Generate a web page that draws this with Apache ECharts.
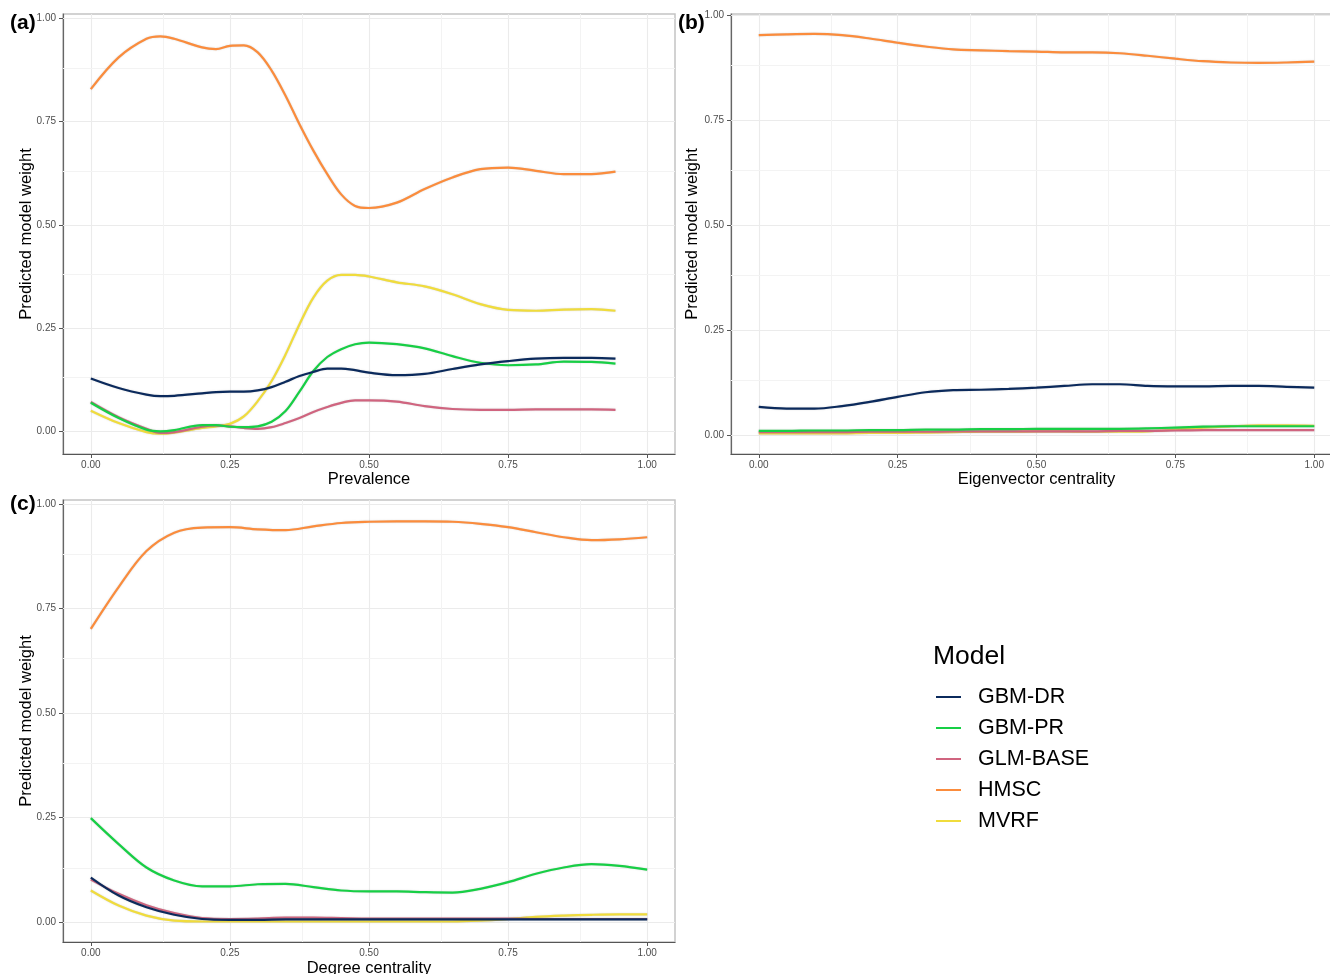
<!DOCTYPE html>
<html>
<head>
<meta charset="utf-8">
<script src="https://cdn.jsdelivr.net/npm/echarts@6/dist/echarts.min.js"></script>
<style>
html,body{margin:0;padding:0;background:#fff;}
#chart{width:1330px;height:974px;}
</style>
</head>
<body>
<div id="chart"></div>
<script>
// ---------------- DATA ----------------
const models = ['GBM-DR', 'GBM-PR', 'GLM-BASE', 'HMSC', 'MVRF'];
const modelColors = ['#0b2a5c', '#17cf45', '#d0647f', '#fb8c3c', '#f0dc3c'];
const tickValues = [0, 0.25, 0.5, 0.75, 1];
const minorValues = [0.125, 0.375, 0.625, 0.875];

// Panel (a): Prevalence
const xPrev = [0,0.05,0.1,0.125,0.15,0.2,0.225,0.25,0.275,0.3,0.325,0.35,0.375,0.4,0.425,0.45,0.475,0.5,0.55,0.6,0.65,0.7,0.75,0.8,0.85,0.9,0.943];
const prevGBMDR = [0.128,0.105,0.089,0.085,0.086,0.092,0.095,0.096,0.096,0.099,0.107,0.120,0.134,0.144,0.152,0.152,0.148,0.142,0.136,0.139,0.151,0.162,0.170,0.176,0.178,0.178,0.176];
const prevGBMPR = [0.069,0.032,0.004,0.000,0.003,0.015,0.015,0.011,0.010,0.012,0.023,0.049,0.096,0.146,0.180,0.199,0.211,0.215,0.211,0.201,0.182,0.166,0.160,0.162,0.169,0.168,0.164];
const prevGLM = [0.071,0.034,0.006,-0.004,-0.002,0.011,0.014,0.012,0.008,0.006,0.010,0.020,0.032,0.047,0.059,0.069,0.075,0.075,0.072,0.061,0.054,0.052,0.052,0.053,0.053,0.053,0.052];
const prevHMSC = [0.829,0.906,0.951,0.957,0.951,0.930,0.926,0.934,0.935,0.918,0.874,0.813,0.744,0.680,0.623,0.574,0.546,0.541,0.554,0.587,0.615,0.635,0.639,0.631,0.623,0.623,0.629];
const prevMVRF = [0.050,0.020,-0.002,-0.006,-0.003,0.008,0.012,0.018,0.036,0.073,0.122,0.186,0.259,0.324,0.365,0.379,0.379,0.375,0.361,0.351,0.332,0.308,0.294,0.292,0.295,0.296,0.292];

// Panel (b): Eigenvector centrality
const xEig = [0,0.05,0.1,0.15,0.2,0.25,0.3,0.35,0.4,0.45,0.5,0.55,0.6,0.65,0.7,0.75,0.8,0.85,0.9,0.95,1];
const eigGBMDR = [0.067,0.063,0.063,0.069,0.079,0.091,0.102,0.107,0.108,0.110,0.113,0.117,0.121,0.121,0.117,0.116,0.116,0.117,0.117,0.115,0.113];
const eigGBMPR = [0.010,0.010,0.011,0.011,0.012,0.012,0.013,0.013,0.014,0.014,0.015,0.015,0.015,0.015,0.016,0.018,0.020,0.021,0.021,0.021,0.021];
const eigGLM = [0.007,0.007,0.007,0.007,0.008,0.008,0.008,0.009,0.009,0.009,0.009,0.009,0.009,0.010,0.010,0.011,0.012,0.012,0.012,0.012,0.012];
const eigHMSC = [0.952,0.954,0.955,0.952,0.944,0.934,0.925,0.918,0.916,0.914,0.913,0.911,0.911,0.909,0.903,0.896,0.890,0.887,0.886,0.887,0.889];
const eigMVRF = [0.004,0.004,0.004,0.004,0.005,0.005,0.006,0.007,0.008,0.008,0.009,0.009,0.008,0.008,0.009,0.013,0.018,0.021,0.023,0.023,0.022];

// Panel (c): Degree centrality
const xDeg = [0,0.05,0.1,0.15,0.2,0.25,0.3,0.35,0.4,0.45,0.5,0.55,0.6,0.65,0.7,0.75,0.8,0.85,0.9,0.95,1];
const degGBMDR = [0.107,0.064,0.036,0.018,0.008,0.006,0.006,0.007,0.007,0.007,0.007,0.007,0.007,0.007,0.007,0.007,0.007,0.007,0.007,0.007,0.007];
const degGBMPR = [0.249,0.187,0.131,0.100,0.086,0.086,0.091,0.092,0.084,0.076,0.074,0.074,0.072,0.071,0.080,0.096,0.116,0.131,0.139,0.135,0.126];
const degGLM = [0.102,0.068,0.041,0.022,0.010,0.008,0.009,0.011,0.011,0.010,0.009,0.009,0.009,0.009,0.009,0.009,0.008,0.008,0.008,0.008,0.008];
const degHMSC = [0.701,0.801,0.887,0.931,0.943,0.944,0.939,0.937,0.946,0.954,0.957,0.958,0.958,0.957,0.952,0.944,0.932,0.920,0.913,0.915,0.920];
const degMVRF = [0.076,0.040,0.016,0.004,0.002,0.002,0.002,0.002,0.002,0.002,0.002,0.002,0.002,0.002,0.004,0.008,0.013,0.016,0.018,0.019,0.019];

const panelLabels = ['(a)', '(b)', '(c)'];
const xNames = ['Prevalence', 'Eigenvector centrality', 'Degree centrality'];
const yName = 'Predicted model weight';
const legendTitle = 'Model';

// ---------------- BUILD ----------------
const FONT = '"Liberation Sans", Arial, Helvetica, sans-serif';
const panels = [
  {x: xPrev, ys: [prevGBMDR, prevGBMPR, prevGLM, prevHMSC, prevMVRF]},
  {x: xEig,  ys: [eigGBMDR, eigGBMPR, eigGLM, eigHMSC, eigMVRF]},
  {x: xDeg,  ys: [degGBMDR, degGBMPR, degGLM, degHMSC, degMVRF]}
];
const grids = [
  {left: 63, top: 14, width: 612, height: 440, ymin: -0.055, ymax: 1.011, xmax: 1.05},
  {left: 731, top: 14, width: 611, height: 440, ymin: -0.045, ymax: 1.0024, xmax: 1.05},
  {left: 63, top: 500, width: 612, height: 442, ymin: -0.047, ymax: 1.009, xmax: 1.05}
];
const yNameGap = [28, 30, 28];
const xNameGap = [17, 17, 18];

const titleStyle = {fontSize: 21, fontWeight: 'bold', color: '#000', fontFamily: FONT};
const option = {
  backgroundColor: '#ffffff',
  animation: false,
  textStyle: {fontFamily: FONT},
  title: [
    {text: panelLabels[0], left: 5, top: 8, textStyle: titleStyle},
    {text: panelLabels[1], left: 673, top: 8, textStyle: titleStyle},
    {text: panelLabels[2], left: 5, top: 489, textStyle: titleStyle},
    {text: legendTitle, left: 928, top: 638, textStyle: {fontSize: 26.5, fontWeight: 'normal', color: '#000', fontFamily: FONT}}
  ],
  legend: {
    orient: 'vertical',
    left: 936,
    top: 686,
    padding: 0,
    itemWidth: 25,
    itemHeight: 2,
    itemGap: 9,
    icon: 'rect',
    data: models,
    textStyle: {fontSize: 21.5, color: '#000', lineHeight: 22, padding: [0, 0, 0, 12], fontFamily: FONT}
  },
  grid: grids.map(g => ({left: g.left, top: g.top, width: g.width, height: g.height, show: true,
    outerBoundsMode: 'none',
    borderColor: '#c4c4c4', borderWidth: 1.5, backgroundColor: '#fff', containLabel: false})),
  xAxis: grids.map((g, i) => ({
    type: 'value', gridIndex: i, min: -0.05, max: g.xmax,
    name: xNames[i], nameLocation: 'middle', nameGap: xNameGap[i], nameMoveOverlap: false,
    nameTextStyle: {fontSize: 16.5, color: '#000', fontFamily: FONT},
    axisLine: {show: true, onZero: false, lineStyle: {color: '#555', width: 1.2}},
    axisTick: {show: true, length: 4, customValues: tickValues, lineStyle: {color: '#555'}},
    axisLabel: {customValues: tickValues, fontSize: 10, color: '#4d4d4d', margin: 6,
      formatter: v => v.toFixed(2)},
    splitLine: {show: false}
  })),
  yAxis: grids.map((g, i) => ({
    type: 'value', gridIndex: i, min: g.ymin, max: g.ymax,
    name: yName, nameLocation: 'middle', nameGap: yNameGap[i], nameMoveOverlap: false,
    nameTextStyle: {fontSize: 16.5, color: '#000', fontFamily: FONT},
    axisLine: {show: true, onZero: false, lineStyle: {color: '#666', width: 1.2}},
    axisTick: {show: true, length: 4, customValues: tickValues, lineStyle: {color: '#555'}},
    axisLabel: {customValues: tickValues, fontSize: 10, color: '#4d4d4d', margin: 7,
      formatter: v => v.toFixed(2)},
    splitLine: {show: false}
  })),
  series: []
};

// gridlines (through the axes' own scales)
panels.forEach((p, i) => {
  const lines = [];
  const major = {color: '#ebebeb', width: 1.1, type: 'solid'};
  const minor = {color: '#f3f3f3', width: 1, type: 'solid'};
  tickValues.forEach(v => { lines.push({xAxis: v, lineStyle: major}); lines.push({yAxis: v, lineStyle: major}); });
  minorValues.forEach(v => { lines.push({xAxis: v, lineStyle: minor}); lines.push({yAxis: v, lineStyle: minor}); });
  option.series.push({
    type: 'line', name: 'grid' + i, xAxisIndex: i, yAxisIndex: i, data: [], z: 1, silent: true,
    markLine: {silent: true, z: 1, symbol: 'none', label: {show: false}, animation: false,
      lineStyle: {type: 'solid'}, emphasis: {disabled: true}, data: lines}
  });
});

// data lines; draw order so HMSC/MVRF lie under the others
const drawOrder = [3, 4, 2, 1, 0];
panels.forEach((p, i) => {
  drawOrder.forEach(m => {
    option.series.push({
      type: 'line', name: models[m], xAxisIndex: i, yAxisIndex: i,
      data: p.x.map((x, k) => [x, p.ys[m][k]]),
      smooth: 0.35, showSymbol: false, symbol: 'none', z: 3,
      color: modelColors[m],
      lineStyle: {color: modelColors[m], width: 2.2, shadowColor: 'rgba(120,120,120,0.35)', shadowBlur: 1.5}
    });
  });
});

const chart = echarts.init(document.getElementById('chart'), null, {renderer: 'canvas'});
chart.setOption(option);
</script>
</body>
</html>
